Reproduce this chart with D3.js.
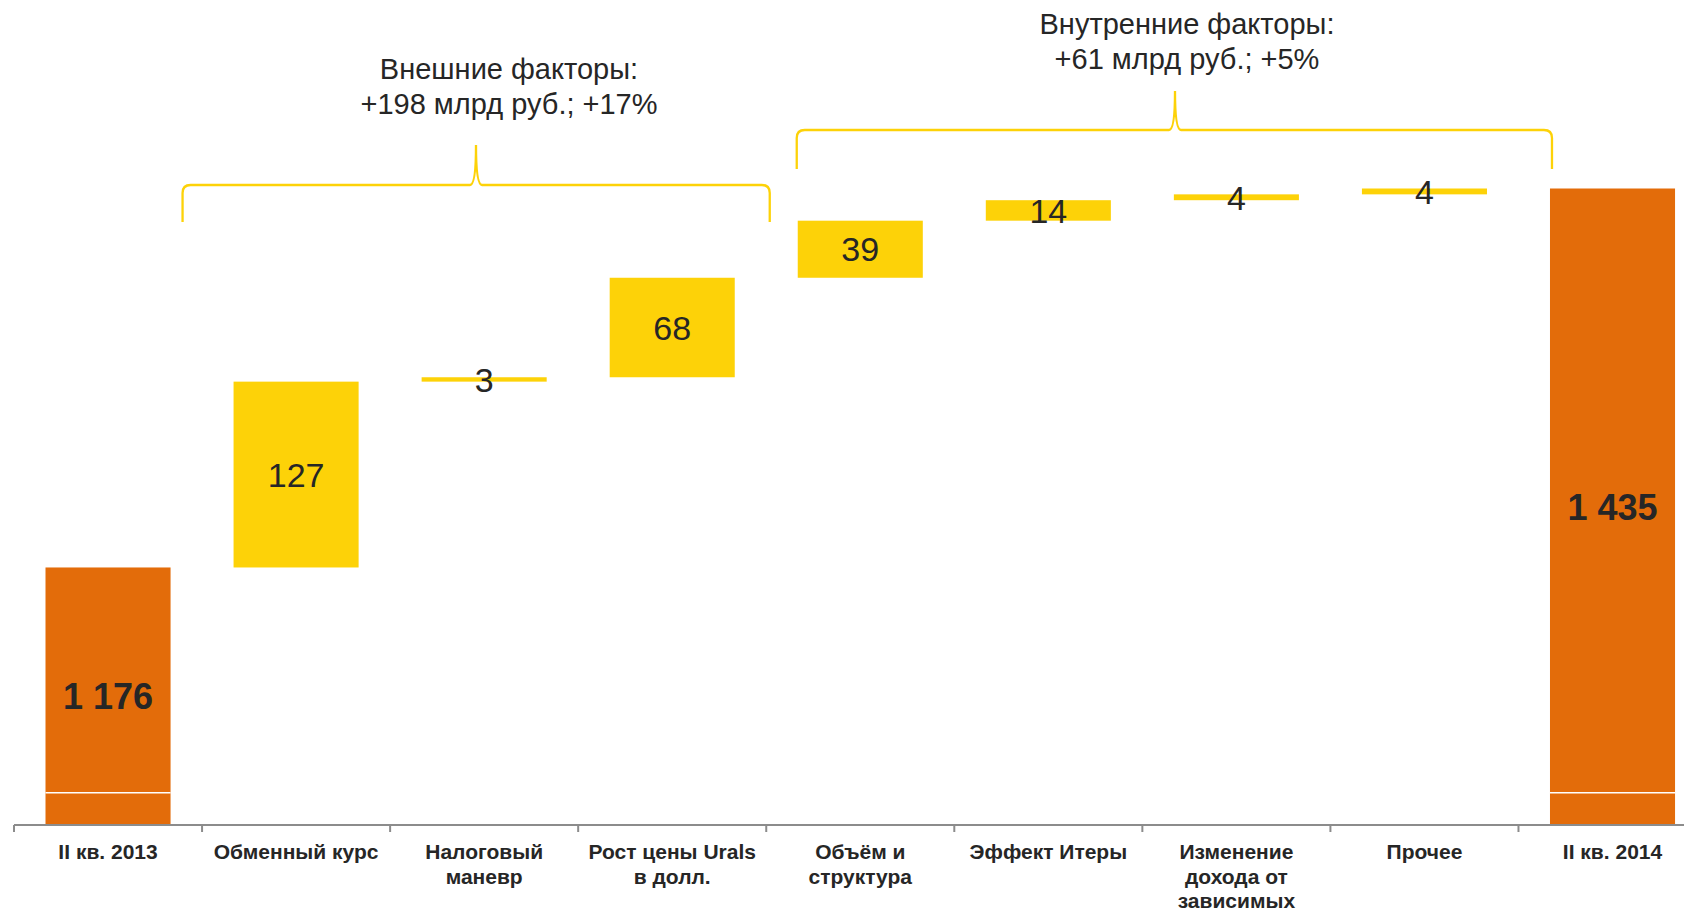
<!DOCTYPE html>
<html>
<head>
<meta charset="utf-8">
<script src="https://cdn.jsdelivr.net/npm/d3@7"></script>
<style>
  html, body { margin: 0; padding: 0; background: #fff; overflow: hidden; }
  text { font-family: "Liberation Sans", Arial, sans-serif; fill: #262626; }
</style>
</head>
<body>
<div id="chart"></div>
<script>
// data
const categories = ["II кв. 2013", "Обменный курс", "Налоговый\nманевр", "Рост цены Urals\nв долл.",
  "Объём и\nструктура", "Эффект Итеры", "Изменение\nдохода от\nзависимых", "Прочее", "II кв. 2014"];
const startTotal = 1176;
const endTotal = 1435;
const deltas = [127, 3, 68, 39, 14, 4, 4];
const axisBase = 1000;   // axis is broken, bars start here
const breakValue = 1022;
const groupTitles = [
  ["Внешние факторы:", "+198 млрд руб.; +17%"],
  ["Внутренние факторы:", "+61 млрд руб.; +5%"]
];

const width = 1684, height = 910;
const orange = "#e36c0a", yellow = "#fdd208", axisGrey = "#8c8c8c";

const svg = d3.select("#chart").append("svg")
    .attr("width", width)
    .attr("height", height);

// build waterfall rows
let running = startTotal;
const rows = [{ cat: categories[0], y0: axisBase, y1: startTotal, v: startTotal, total: true }];
deltas.forEach((d, i) => {
  rows.push({ cat: categories[i + 1], y0: running, y1: running + d, v: d, total: false });
  running += d;
});
rows.push({ cat: categories[categories.length - 1], y0: axisBase, y1: endTotal, v: endTotal, total: true });

const x = d3.scaleBand()
    .domain(categories)
    .range([14, 14 + 188.06 * categories.length])
    .paddingInner(0.335)
    .paddingOuter(0.1675);

const y = d3.scaleLinear()
    .domain([axisBase, endTotal])
    .range([825, 188.5]);

const gap = (x.step() - x.bandwidth()) / 2;
const fmt = d3.formatLocale({ decimal: ",", thousands: " ", grouping: [3], currency: ["", ""] }).format(",");

// bars
svg.selectAll(".bar")
    .data(rows)
    .enter().append("rect")
    .attr("class", "bar")
    .attr("x", d => x(d.cat))
    .attr("width", x.bandwidth())
    .attr("y", d => y(Math.max(d.y0, d.y1)))
    .attr("height", d => Math.max(3.5, Math.abs(y(d.y0) - y(d.y1))))
    .attr("fill", d => d.total ? orange : yellow);

// axis break marks on the totals
svg.selectAll(".brk")
    .data(rows.filter(d => d.total))
    .enter().append("line")
    .attr("x1", d => x(d.cat))
    .attr("x2", d => x(d.cat) + x.bandwidth())
    .attr("y1", y(breakValue))
    .attr("y2", y(breakValue))
    .attr("stroke", "#fff")
    .attr("stroke-width", 1.5);

// value labels
svg.selectAll(".val")
    .data(rows)
    .enter().append("text")
    .attr("x", d => x(d.cat) + x.bandwidth() / 2)
    .attr("y", d => (y(d.y0) + y(d.y1)) / 2)
    .attr("dy", "0.36em")
    .attr("text-anchor", "middle")
    .style("font-size", d => d.total ? "36px" : "34px")
    .style("font-weight", d => d.total ? "bold" : "normal")
    .text(d => fmt(d.v));

// x axis: line + ticks at band edges
svg.append("line")
    .attr("x1", x.range()[0]).attr("x2", width)
    .attr("y1", y(axisBase)).attr("y2", y(axisBase))
    .attr("stroke", axisGrey).attr("stroke-width", 2);

svg.selectAll(".tick")
    .data(categories)
    .enter().append("line")
    .attr("x1", d => x(d) - gap).attr("x2", d => x(d) - gap)
    .attr("y1", y(axisBase)).attr("y2", y(axisBase) + 7)
    .attr("stroke", axisGrey).attr("stroke-width", 2);

const catLabels = svg.selectAll(".cat")
    .data(categories)
    .enter().append("text")
    .attr("text-anchor", "middle")
    .style("font-size", "21px")
    .style("font-weight", "bold")
    .attr("transform", d => `translate(${x(d) + x.bandwidth() / 2},859)`);

catLabels.selectAll("tspan")
    .data(d => d.split("\n"))
    .enter().append("tspan")
    .attr("x", 0)
    .attr("y", (d, i) => i * 24.5)
    .text(d => d);

// braces over the factor groups
function brace(x0, x1, tipX, yBar, yEnd, yTip) {
  const r = 8;
  return `M${x0},${yEnd} L${x0},${yBar + r} Q${x0},${yBar} ${x0 + r},${yBar}` +
    ` L${tipX - 6},${yBar} Q${tipX},${yBar} ${tipX},${yTip}` +
    ` Q${tipX},${yBar} ${tipX + 6},${yBar} L${x1 - r},${yBar}` +
    ` Q${x1},${yBar} ${x1},${yBar + r} L${x1},${yEnd}`;
}

const braces = [
  { x0: x(categories[1]) - 51, x1: x(categories[4]) - 28, tip: 476, yBar: 185, yEnd: 222, yTip: 145, tx: 509, ty: 69 },
  { x0: x(categories[4]) - 1, x1: x(categories[8]) + 2, tip: 1175, yBar: 130, yEnd: 169, yTip: 91, tx: 1187, ty: 24 }
];

svg.selectAll(".brace")
    .data(braces)
    .enter().append("path")
    .attr("d", d => brace(d.x0, d.x1, d.tip, d.yBar, d.yEnd, d.yTip))
    .attr("fill", "none")
    .attr("stroke", yellow)
    .attr("stroke-width", 2.3);

const titles = svg.selectAll(".gt")
    .data(braces)
    .enter().append("text")
    .attr("text-anchor", "middle")
    .style("font-size", "29px")
    .attr("transform", d => `translate(${d.tx},${d.ty})`);

titles.selectAll("tspan")
    .data((d, i) => groupTitles[i])
    .enter().append("tspan")
    .attr("x", 0)
    .attr("y", (d, i) => i * 35)
    .attr("dy", "0.36em")
    .text(d => d);
</script>
</body>
</html>
